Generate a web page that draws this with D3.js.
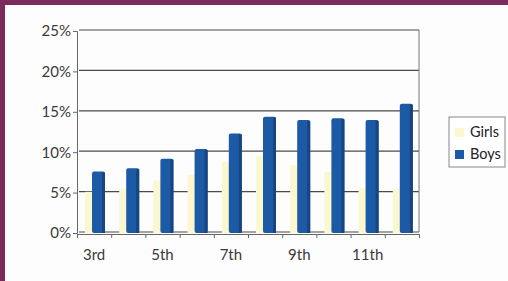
<!DOCTYPE html>
<html>
<head>
<meta charset="utf-8">
<script src="https://cdn.jsdelivr.net/npm/d3@7"></script>
<style>
  body { margin: 0; background: #7a2b5b; }
  .axis text { font-family: Lato, "Open Sans", sans-serif; font-size: 15px; fill: #3a3a3a; }
  .axis path, .axis line { stroke: #666; }
</style>
</head>
<body>
<div id="chart"></div>
<script>
// grade levels, percent of students
var categories = ["3rd", "4th", "5th", "6th", "7th", "8th", "9th", "10th", "11th", "12th"];
var girls = [5.1, 5.5, 6.5, 7.2, 8.8, 9.5, 8.4, 7.6, 5.6, 5.4];
var boys = [7.6, 8.0, 9.2, 10.4, 12.3, 14.4, 14.0, 14.2, 14.0, 16.0];
var yTicks = [0, 5, 10, 15, 20, 25];
var xLabels = ["3rd", "5th", "7th", "9th", "11th"];
var seriesNames = ["Girls", "Boys"];

var w = 508, h = 281;
var plotLeft = 77, plotRight = 419, plotTop = 31, plotBottom = 233;

var svg = d3.select("#chart")
    .append("svg")
    .attr("width", w)
    .attr("height", h)
    .style("display", "block");

// purple frame, white card
svg.append("rect").attr("width", w).attr("height", h).attr("fill", "#7a2b5b");
svg.append("rect").attr("x", 5).attr("y", 5).attr("width", w - 5).attr("height", h - 5).attr("fill", "#fdfdfd");

var xScale = d3.scaleBand()
    .domain(categories)
    .range([plotLeft, plotRight])
    .padding(0);
var yScale = d3.scaleLinear()
    .domain([0, 25])
    .range([plotBottom, plotTop]);

// back wall gridlines
svg.selectAll("line.grid")
   .data(yTicks)
   .enter()
   .append("line")
   .attr("class", "grid")
   .attr("x1", plotLeft + 2)
   .attr("x2", plotRight)
   .attr("y1", function(d){ return yScale(d) - 1; })
   .attr("y2", function(d){ return yScale(d) - 1; })
   .attr("stroke", "#4a4a4a")
   .attr("stroke-width", 1.2);
svg.append("line")
   .attr("x1", plotRight).attr("x2", plotRight)
   .attr("y1", yScale(25) - 1).attr("y2", yScale(0) - 1)
   .attr("stroke", "#777");

// girls columns (behind)
svg.selectAll("rect.girls")
   .data(girls)
   .enter()
   .append("rect")
   .attr("class", "girls")
   .attr("x", function(d, i){ return xScale(categories[i]) + 8; })
   .attr("y", function(d){ return yScale(d); })
   .attr("width", 10)
   .attr("height", function(d){ return yScale(0) - yScale(d); })
   .attr("fill", "#fbf8cf");

// boys columns, front face + dark side
var bw = 13;
svg.selectAll("rect.boys")
   .data(boys)
   .enter()
   .append("rect")
   .attr("class", "boys")
   .attr("x", function(d, i){ return xScale(categories[i]) + 15; })
   .attr("y", function(d){ return yScale(d); })
   .attr("width", bw)
   .attr("height", function(d){ return yScale(0) - yScale(d); })
   .attr("rx", 2)
   .attr("fill", "#1d5aa6");
svg.selectAll("rect.boysSide")
   .data(boys)
   .enter()
   .append("rect")
   .attr("class", "boysSide")
   .attr("x", function(d, i){ return xScale(categories[i]) + 15 + bw - 3; })
   .attr("y", function(d){ return yScale(d) + 1; })
   .attr("width", 3)
   .attr("height", function(d){ return yScale(0) - yScale(d) - 1; })
   .attr("fill", "#164580");

// axes
svg.append("g")
   .attr("class", "axis")
   .attr("transform", "translate(" + plotLeft + ", 0)")
   .call(d3.axisLeft(yScale).tickValues(yTicks).tickSize(4).tickPadding(2)
        .tickFormat(function(d){ return d + "%"; }));

var xTickScale = d3.scaleLinear().domain([0, categories.length]).range([plotLeft, plotRight]);
svg.append("g")
   .attr("class", "axis")
   .attr("transform", "translate(0, " + (plotBottom + 1) + ")")
   .call(d3.axisBottom(xTickScale).ticks(categories.length).tickSize(4).tickSizeOuter(0)
        .tickFormat(""));

svg.selectAll("text.xlab")
   .data(xLabels)
   .enter()
   .append("text")
   .attr("class", "xlab")
   .attr("x", function(d){ return xScale(d) + xScale.bandwidth() / 2; })
   .attr("y", 260)
   .attr("text-anchor", "middle")
   .style("font-family", "Lato, 'Open Sans', sans-serif")
   .style("font-size", "15px")
   .attr("fill", "#3a3a3a")
   .text(function(d){ return d; });

// legend
var legend = svg.append("g").attr("transform", "translate(449, 117)");
legend.append("rect")
   .attr("width", 56).attr("height", 50)
   .attr("fill", "#fff").attr("stroke", "#888");
var colors = ["#fbf8cf", "#1d5aa6"];
seriesNames.forEach(function(name, i){
    legend.append("rect")
       .attr("x", 6).attr("y", 11 + i * 22)
       .attr("width", 9).attr("height", 9)
       .attr("fill", colors[i]);
    legend.append("text")
       .attr("x", 21).attr("y", 20 + i * 22)
       .style("font-family", "Lato, 'Open Sans', sans-serif")
       .style("font-size", "14.5px")
       .attr("fill", "#222")
       .text(name);
});
</script>
</body>
</html>
